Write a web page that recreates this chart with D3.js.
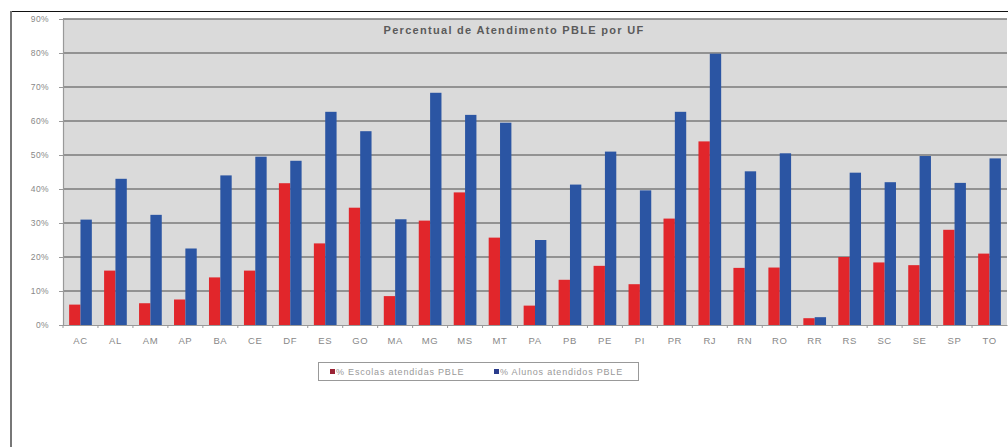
<!DOCTYPE html>
<html>
<head>
<meta charset="utf-8">
<script src="https://cdn.jsdelivr.net/npm/d3@7"></script>
<style>
  html, body { margin: 0; padding: 0; background: #fff; }
  svg { display: block; }
  text { font-family: "Liberation Sans", Arial, sans-serif; }
</style>
</head>
<body>
<svg id="chart" width="1008" height="447"></svg>
<script>
const categories = ["AC","AL","AM","AP","BA","CE","DF","ES","GO","MA","MG","MS","MT","PA","PB","PE","PI","PR","RJ","RN","RO","RR","RS","SC","SE","SP","TO"];
const escolas = [6, 16, 6.4, 7.5, 14, 16, 41.7, 24, 34.5, 8.5, 30.7, 39, 25.7, 5.7, 13.3, 17.4, 12, 31.3, 54, 16.8, 16.9, 2, 20, 18.4, 17.6, 28, 21];
const alunos = [31, 43, 32.4, 22.5, 44, 49.5, 48.3, 62.7, 57, 31.1, 68.3, 61.8, 59.5, 25, 41.3, 51, 39.6, 62.7, 79.8, 45.2, 50.5, 2.3, 44.8, 42, 49.7, 41.8, 49];
const yTicks = [0, 10, 20, 30, 40, 50, 60, 70, 80, 90];
const seriesNames = ["% Escolas atendidas PBLE", "% Alunos atendidos PBLE"];
const seriesColors = ["#e1262b", "#2b55a3"];
const title = "Percentual de Atendimento PBLE por UF";

const svg = d3.select("#chart");

// outer frame
svg.append("line").attr("x1", 11).attr("x2", 1008).attr("y1", 11.5).attr("y2", 11.5).attr("stroke", "#111").attr("stroke-width", 1.2);
svg.append("line").attr("x1", 11).attr("x2", 11).attr("y1", 11).attr("y2", 447).attr("stroke", "#777").attr("stroke-width", 2);

const m = {left: 63, right: 1007, top: 19, bottom: 325};

const x = d3.scaleBand().domain(categories).range([m.left, m.right]).paddingInner(0).paddingOuter(0);
const x1 = d3.scaleBand().domain([0, 1]).range([0, x.bandwidth()]).paddingInner(0).paddingOuter(0.54);
const y = d3.scaleLinear().domain([0, 90]).range([m.bottom, m.top]);

// plot background
svg.append("rect").attr("x", m.left).attr("y", m.top).attr("width", m.right - m.left).attr("height", m.bottom - m.top).attr("fill", "#dadada");

// gridlines
svg.append("g").selectAll("line").data(yTicks.filter(d => d > 0)).join("line")
  .attr("x1", m.left).attr("x2", m.right)
  .attr("y1", d => y(d)).attr("y2", d => y(d))
  .attr("stroke", "#7a7a7a").attr("stroke-width", 1.3);

// title
svg.append("text").attr("x", 514).attr("y", 34).attr("text-anchor", "middle")
  .attr("font-size", 11).attr("font-weight", "bold").attr("letter-spacing", 1.3).attr("fill", "#5a5a5a").text(title);

// bars
const groups = svg.append("g").selectAll("g").data(categories).join("g")
  .attr("transform", d => `translate(${x(d)},0)`);
groups.selectAll("rect").data((d, i) => [escolas[i], alunos[i]]).join("rect")
  .attr("x", (d, j) => x1(j))
  .attr("width", x1.bandwidth())
  .attr("y", d => y(d))
  .attr("height", d => y(0) - y(d))
  .attr("fill", (d, j) => seriesColors[j]);

// y axis
const yAxis = d3.axisLeft(y).tickValues(yTicks).tickFormat(d => d + "%").tickSize(4).tickPadding(10);
const gy = svg.append("g").attr("transform", `translate(${m.left},0)`).call(yAxis);
gy.select(".domain").attr("stroke", "#999").attr("stroke-width", 1.2);
gy.selectAll(".tick line").attr("stroke", "#999");
gy.selectAll("text").attr("font-size", 8.5).attr("letter-spacing", 0.4).attr("fill", "#888");

// x axis
const xAxis = d3.axisBottom(x).tickSize(0).tickPadding(12);
const gx = svg.append("g").attr("transform", `translate(0,${m.bottom})`).call(xAxis);
gx.select(".domain").attr("stroke", "#999").attr("stroke-width", 1.2);
gx.selectAll("text").attr("font-size", 9.5).attr("letter-spacing", 0.6).attr("fill", "#888");
// category separator ticks
gx.append("g").selectAll("line").data(categories).join("line")
  .attr("x1", d => x(d)).attr("x2", d => x(d)).attr("y1", 0).attr("y2", 3)
  .attr("stroke", "#999");

// legend
const lg = svg.append("g");
lg.append("rect").attr("x", 318.5).attr("y", 362.5).attr("width", 320).attr("height", 18)
  .attr("fill", "#fff").attr("stroke", "#999").attr("stroke-width", 1);
const legendX = [330, 494];
seriesNames.forEach((n, i) => {
  lg.append("rect").attr("x", legendX[i]).attr("y", 369).attr("width", 5).attr("height", 5).attr("fill", i === 0 ? "#9b2335" : "#2a3c8c");
  lg.append("text").attr("x", legendX[i] + 6).attr("y", 375).attr("font-size", 9).attr("letter-spacing", 0.8).attr("fill", "#999").text(n);
});
</script>
</body>
</html>
